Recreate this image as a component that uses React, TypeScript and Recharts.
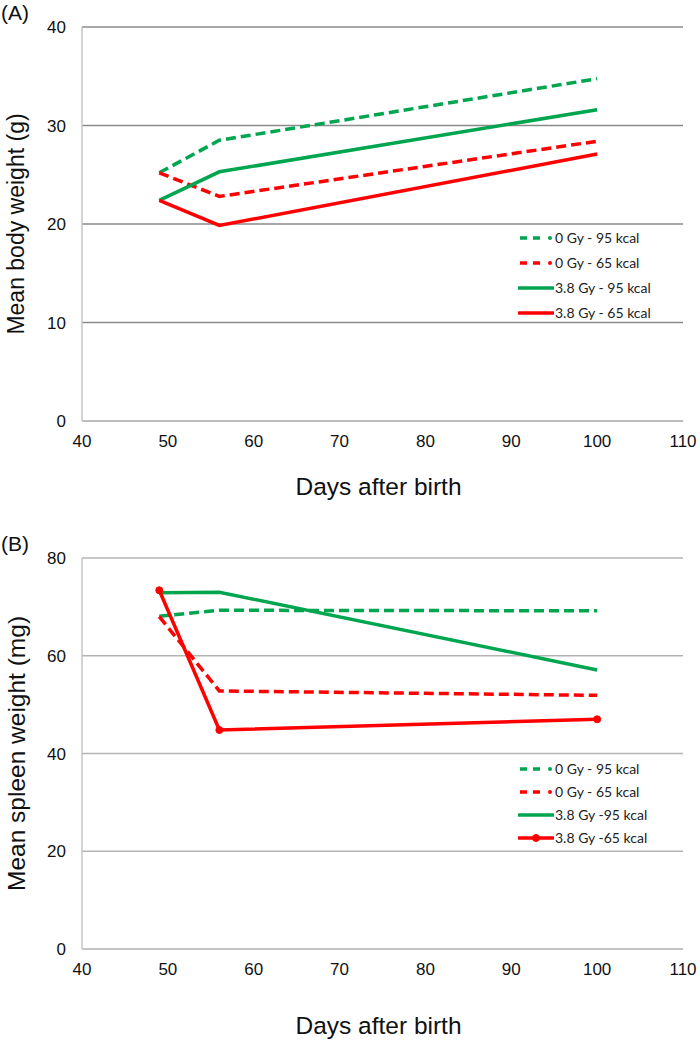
import React from 'react';
import { LineChart, Line, XAxis, YAxis, CartesianGrid, Legend } from 'recharts';

const days = [49, 56, 100];
const xTicks = [40, 50, 60, 70, 80, 90, 100, 110];
const bodyTicks = [0, 10, 20, 30, 40];
const spleenTicks = [0, 20, 40, 60, 80];

const body0Gy95 = [25.2, 28.5, 34.75];
const body0Gy65 = [25.2, 22.8, 28.4];
const body38Gy95 = [22.4, 25.3, 31.6];
const body38Gy65 = [22.4, 19.85, 27.1];

const spleen0Gy95 = [68.1, 69.3, 69.2];
const spleen0Gy65 = [68.0, 52.8, 51.9];
const spleen38Gy95 = [72.9, 73.0, 57.1];
const spleen38Gy65 = [73.4, 44.8, 47.0];

const labelsA = ['0 Gy - 95 kcal', '0 Gy - 65 kcal', '3.8 Gy - 95 kcal', '3.8 Gy - 65 kcal'];
const labelsB = ['0 Gy - 95 kcal', '0 Gy - 65 kcal', '3.8 Gy -95 kcal', '3.8 Gy -65 kcal'];

const keys = ['s0g95', 's0g65', 's38g95', 's38g65'];
const GREEN = '#00A550';
const RED = '#FF0000';
const colors = [GREEN, RED, GREEN, RED];
const dashed = [true, true, false, false];

const dataA = days.map((d, i) => ({
  day: d,
  s0g95: body0Gy95[i],
  s0g65: body0Gy65[i],
  s38g95: body38Gy95[i],
  s38g65: body38Gy65[i],
}));
const dataB = days.map((d, i) => ({
  day: d,
  s0g95: spleen0Gy95[i],
  s0g65: spleen0Gy65[i],
  s38g95: spleen38Gy95[i],
  s38g65: spleen38Gy65[i],
}));

const FONT = '"Liberation Sans", Arial, Helvetica, sans-serif';
const DASH = '10 5';

const makeYLabel = (text: string, size: number) => (props: any) => {
  const vb = props.viewBox || {};
  const cy = vb.y + vb.height / 2;
  const x = 16;
  return (
    <text
      x={x}
      y={cy}
      transform={`rotate(-90 ${x} ${cy})`}
      textAnchor="middle"
      dominantBaseline="central"
      fontSize={size}
      fontFamily={FONT}
      fill="#111"
    >
      {text}
    </text>
  );
};

const makeXLabel = (text: string, dy: number) => (props: any) => {
  const vb = props.viewBox || {};
  const cx = vb.x + vb.width / 2 - 4;
  return (
    <text x={cx} y={vb.y + dy} textAnchor="middle" fontSize={24.5} fontFamily={FONT} fill="#111">
      {text}
    </text>
  );
};

const makeLegend = (labels: string[], rowH: number, markerIdx: number) => (props: any) => {
  const payload = [...(props.payload || [])].sort(
    (a: any, b: any) => keys.indexOf(a.dataKey) - keys.indexOf(b.dataKey)
  );
  return (
    <div style={{ fontFamily: 'Lato, "Open Sans", sans-serif', fontSize: 14, color: '#222' }}>
      {payload.map((p: any) => {
        const idx = keys.indexOf(p.dataKey);
        const c = colors[idx];
        return (
          <div key={p.dataKey} style={{ display: 'flex', alignItems: 'center', height: rowH }}>
            <svg width={36} height={12} style={{ display: 'block' }}>
              {dashed[idx] ? (
                <g>
                  <line x1={2} y1={6} x2={24} y2={6} stroke={c} strokeWidth={3.5} strokeDasharray="7 6" />
                  <circle cx={32} cy={6} r={2} fill={c} />
                </g>
              ) : (
                <line x1={1} y1={6} x2={35} y2={6} stroke={c} strokeWidth={3.5} strokeLinecap="round" />
              )}
              {idx === markerIdx ? <circle cx={18} cy={6} r={3.5} fill={c} stroke={c} /> : null}
            </svg>
            <span style={{ marginLeft: 1 }}>{labels[idx]}</span>
          </div>
        );
      })}
    </div>
  );
};

const tickStyle = { fontSize: 17, fontFamily: FONT, fill: '#111' };

function Panel(props: {
  data: any[];
  height: number;
  top: number;
  yDomain: [number, number];
  yTicks: number[];
  yLabel: string;
  yLabelSize: number;
  gridColor: string;
  legendTop: number;
  rowH: number;
  labels: string[];
  markerIdx: number;
  xLabelDy: number;
  marginTop: number;
  marginBottom: number;
}) {
  return (
    <div style={{ position: 'absolute', left: 0, top: props.top }}>
      <LineChart
        width={700}
        height={props.height}
        data={props.data}
        margin={{ top: props.marginTop, right: 17, left: 22, bottom: props.marginBottom }}
      >
        <CartesianGrid vertical={false} stroke={props.gridColor} strokeWidth={1.5} />
        <XAxis
          dataKey="day"
          type="number"
          domain={[40, 110]}
          ticks={xTicks}
          tickLine={false}
          tickSize={0}
          tickMargin={14}
          height={30}
          stroke="#c4c4c4"
          strokeWidth={1.5}
          tick={tickStyle}
          interval={0}
          label={{ content: makeXLabel('Days after birth', props.xLabelDy) }}
        />
        <YAxis
          type="number"
          domain={props.yDomain}
          ticks={props.yTicks}
          tickLine={false}
          tickSize={0}
          tickMargin={16}
          width={60}
          stroke="#c4c4c4"
          strokeWidth={1.5}
          tick={tickStyle}
          interval={0}
          label={{ content: makeYLabel(props.yLabel, props.yLabelSize) }}
        />
        <Legend
          layout="vertical"
          align="center"
          verticalAlign="middle"
          wrapperStyle={{ left: 518, top: props.legendTop, width: 180 }}
          content={makeLegend(props.labels, props.rowH, props.markerIdx)}
        />
        {keys.map((k, i) => (
          <Line
            key={k}
            dataKey={k}
            stroke={colors[i]}
            strokeWidth={3.5}
            strokeDasharray={dashed[i] ? DASH : undefined}
            dot={i === props.markerIdx ? { r: 3.5, fill: colors[i], stroke: colors[i], strokeWidth: 1 } : false}
            activeDot={false}
            isAnimationActive={false}
            type="linear"
          />
        ))}
      </LineChart>
    </div>
  );
}

export default function App() {
  return (
    <div style={{ position: 'absolute', left: 0, top: 0, width: 700, height: 1043, background: '#fff' }}>
      <Panel
        data={dataA}
        height={510}
        top={0}
        yDomain={[0, 40]}
        yTicks={bodyTicks}
        yLabel="Mean body weight (g)"
        yLabelSize={23}
        gridColor="#8a8a8a"
        legendTop={225}
        rowH={25}
        labels={labelsA}
        markerIdx={-1}
        xLabelDy={74}
        marginTop={27}
        marginBottom={59}
      />
      <Panel
        data={dataB}
        height={533}
        top={510}
        yDomain={[0, 80]}
        yTicks={spleenTicks}
        yLabel="Mean spleen weight (mg)"
        yLabelSize={24.5}
        gridColor="#b4b4b4"
        legendTop={247}
        rowH={23}
        labels={labelsB}
        markerIdx={3}
        xLabelDy={85}
        marginTop={48}
        marginBottom={64}
      />
      <div style={{ position: 'absolute', left: 1, top: 1, fontFamily: FONT, fontSize: 21, color: '#111' }}>(A)</div>
      <div style={{ position: 'absolute', left: 1, top: 532, fontFamily: FONT, fontSize: 21, color: '#111' }}>(B)</div>
    </div>
  );
}
